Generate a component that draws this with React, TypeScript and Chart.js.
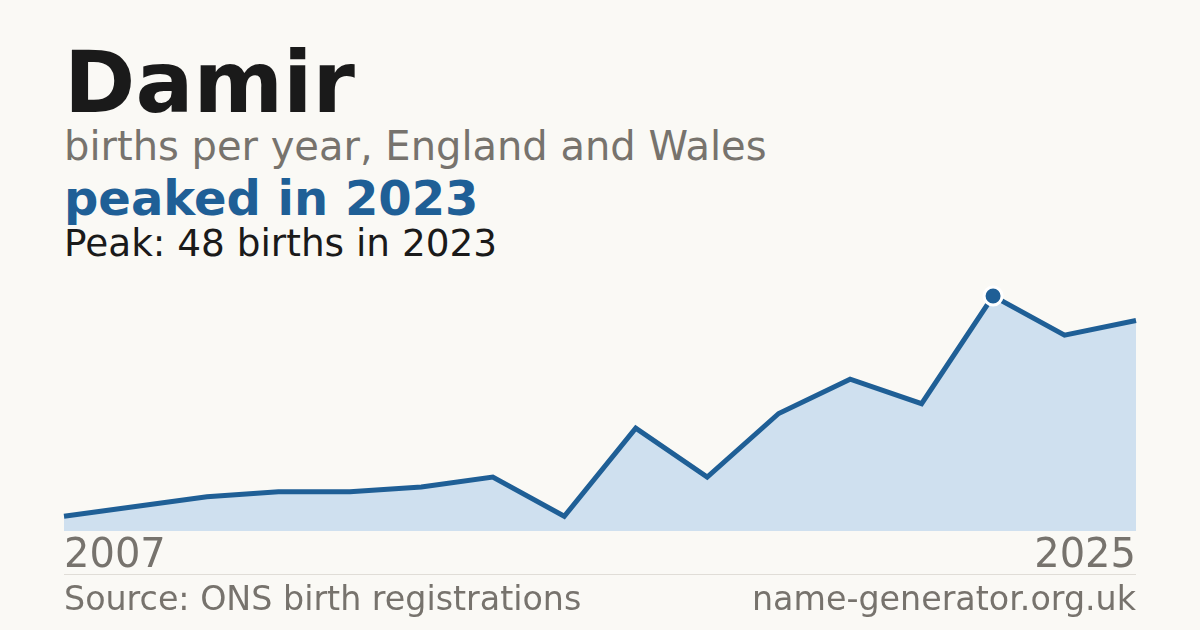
import React, { useEffect, useRef } from "react";
import Chart from "chart.js/auto";

// births per year (years with too few registrations are missing from the ONS table)
const years = ["2007", "2008", "2010", "2011", "2012", "2013", "2014", "2016", "2017", "2018", "2019", "2020", "2022", "2023", "2024", "2025"];
const births = [3, 5, 7, 8, 8, 9, 11, 3, 21, 11, 24, 31, 26, 48, 40, 43];
const peakYear = "2023";

const BLUE = "#1f5f96";
const GREY = "#77736d";
const FONT = "'DejaVu Sans', sans-serif";

const BirthsChart: React.FC = () => {
  const canvasRef = useRef<HTMLCanvasElement>(null);

  useEffect(() => {
    if (!canvasRef.current) return;
    const ctx = canvasRef.current.getContext("2d");
    if (!ctx) return;

    const peakIdx = years.indexOf(peakYear);
    const radii = births.map((_, i) => (i === peakIdx ? 9 : 0));

    const chart = new Chart(ctx, {
      type: "line",
      data: {
        labels: years,
        datasets: [
          {
            data: births,
            borderColor: BLUE,
            borderWidth: 5,
            borderJoinStyle: "miter",
            backgroundColor: "#cfe0ef",
            fill: "origin",
            tension: 0,
            pointRadius: radii,
            pointHoverRadius: radii,
            pointBackgroundColor: BLUE,
            pointBorderColor: "#ffffff",
            pointBorderWidth: 3,
            clip: false,
          },
        ],
      },
      options: {
        responsive: false,
        animation: false,
        layout: { padding: { left: 64, right: 64, top: 16, bottom: 0 } },
        plugins: { legend: { display: false }, tooltip: { enabled: false } },
        scales: {
          y: { display: false, min: 0, max: 48 },
          x: {
            grid: { display: false, drawTicks: false },
            border: { display: false },
            ticks: {
              autoSkip: false,
              maxRotation: 0,
              align: "inner",
              padding: 2,
              color: GREY,
              font: { family: FONT, size: 40, lineHeight: 1.2 },
              callback: (_v, i) => (i === 0 || i === years.length - 1 ? years[i] : ""),
            },
          },
        },
      },
    });

    return () => {
      chart.destroy();
    };
  }, []);

  return (
    <canvas
      ref={canvasRef}
      width={1200}
      height={303}
      style={{ position: "absolute", left: 0, top: 280, width: 1200, height: 303 }}
    />
  );
};

const text = (top: number, size: number, color: string, bold = false): React.CSSProperties => ({
  position: "absolute",
  left: 64,
  top,
  fontSize: size,
  lineHeight: 1,
  color,
  fontWeight: bold ? "bold" : "normal",
  whiteSpace: "nowrap",
});

export default function App() {
  return (
    <div
      style={{
        position: "fixed",
        inset: 0,
        width: 1200,
        height: 630,
        background: "#faf9f5",
        fontFamily: FONT,
        overflow: "hidden",
      }}
    >
      <div style={text(39, 86, "#1a1a1a", true)}>Damir</div>
      <div style={text(126, 40, GREY)}>births per year, England and Wales</div>
      <div style={text(174, 48, BLUE, true)}>peaked in 2023</div>
      <div style={text(225, 37.4, "#1a1a1a")}>Peak: 48 births in 2023</div>
      <BirthsChart />
      <div style={{ position: "absolute", left: 64, top: 574, width: 1072, height: 1, background: "#e0ddd7" }} />
      <div style={text(582, 33.3, GREY)}>Source: ONS birth registrations</div>
      <div style={{ ...text(582, 33.3, GREY), left: "auto", right: 64 }}>name-generator.org.uk</div>
    </div>
  );
}
